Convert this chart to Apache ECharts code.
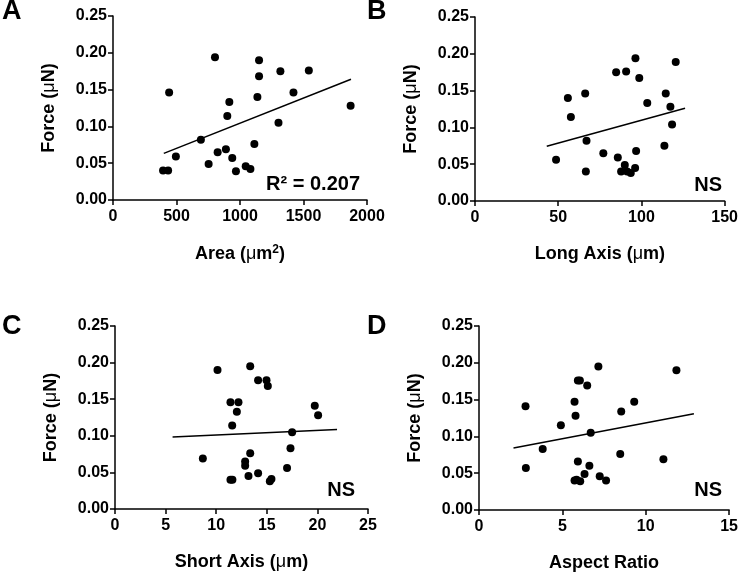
<!DOCTYPE html>
<html>
<head>
<meta charset="utf-8">
<script src="https://cdn.jsdelivr.net/npm/echarts@6/dist/echarts.min.js"></script>
<style>html,body{margin:0;padding:0;background:#fff}#c{width:741px;height:576px}</style>
</head>
<body>
<div id="c"></div>
<script>
// Panel A: Area (um^2) vs Force (uN)
const areaX = [394,434,442,495,692,803,753,824,889,900,916,939,968,1045,1082,1113,1137,1150,1150,1303,1318,1421,1542,1871];
const areaY = [0.040,0.040,0.146,0.059,0.082,0.194,0.049,0.065,0.069,0.114,0.133,0.057,0.039,0.046,0.042,0.076,0.140,0.168,0.190,0.105,0.175,0.146,0.176,0.128];
const areaFitX = [400,1874];
const areaFitY = [0.0634,0.164];
// Panel B: Long Axis (um)
const longX = [48.7,55.8,57.6,66.2,67.0,66.6,77.1,84.8,85.8,87.8,90.0,90.8,91.4,93.6,96.2,96.4,96.8,98.7,103.5,113.8,114.6,117.4,118.4,120.6];
const longY = [0.056,0.140,0.114,0.146,0.082,0.040,0.065,0.175,0.059,0.040,0.049,0.176,0.040,0.038,0.045,0.194,0.068,0.167,0.133,0.075,0.146,0.128,0.104,0.189];
const longFitX = [43.1,126.2];
const longFitY = [0.0744,0.1261];
// Panel C: Short Axis (um)
const shortX = [8.68,10.13,11.41,12.2,12.04,11.58,11.41,11.6,12.86,12.86,13.19,13.36,13.36,14.14,14.14,14.97,15.1,15.3,15.46,17.0,17.34,17.5,19.74,20.07];
const shortY = [0.069,0.190,0.146,0.146,0.133,0.114,0.040,0.040,0.065,0.059,0.045,0.076,0.195,0.176,0.049,0.176,0.168,0.038,0.041,0.056,0.083,0.105,0.141,0.128];
const shortFitX = [5.69,21.94];
const shortFitY = [0.0982,0.1086];
// Panel D: Aspect Ratio
const ratioX = [2.79,2.81,3.82,4.91,5.73,5.79,5.73,5.85,5.93,5.93,6.05,6.07,6.33,6.49,6.62,6.70,7.16,7.24,7.62,8.47,8.53,9.31,11.06,11.84];
const ratioY = [0.141,0.057,0.083,0.115,0.147,0.128,0.040,0.041,0.066,0.176,0.176,0.039,0.049,0.169,0.060,0.105,0.195,0.046,0.040,0.076,0.134,0.147,0.069,0.190];
const ratioFitX = [2.07,12.89];
const ratioFitY = [0.0842,0.1309];

const yTicks = [0,0.05,0.10,0.15,0.20,0.25];
const panelLetters = ['A','B','C','D'];
const annotations = ['R² = 0.207','NS','NS','NS'];

const FONT = '"Liberation Sans", Arial, sans-serif';
function pairs(xs, ys){ return xs.map((x,i)=>[x, ys[i]]); }

const grids = [
  {left:113, top:16, width:254, height:184},
  {left:475, top:17, width:252, height:184},
  {left:115, top:326, width:253, height:183},
  {left:479, top:326, width:252, height:184}
];
const xSpecs = [
  {max:2000, interval:500, name:'{b|Area (}{m|μ}{b|m}{s|2}{b|)}'},
  {max:150, interval:50, name:'{b|Long Axis (}{m|μ}{b|m)}'},
  {max:25, interval:5, name:'{b|Short Axis (}{m|μ}{b|m)}'},
  {max:15, interval:5, name:'{b|Aspect Ratio}'}
];
const data = [
  [areaX, areaY, areaFitX, areaFitY],
  [longX, longY, longFitX, longFitY],
  [shortX, shortY, shortFitX, shortFitY],
  [ratioX, ratioY, ratioFitX, ratioFitY]
];

const nameRich = {
  b:{fontFamily:FONT, fontWeight:'bold', fontSize:18, color:'#000'},
  m:{fontFamily:FONT, fontWeight:'normal', fontSize:18, color:'#000'},
  s:{fontFamily:FONT, fontWeight:'bold', fontSize:12, color:'#000', verticalAlign:'top', padding:[0,0,9,0]}
};
const axisLineStyle = {color:'#000', width:1.5};

const xAxis = xSpecs.map((s,i)=>({
  gridIndex:i, type:'value', min:0, max:s.max, interval:s.interval,
  name:s.name, nameLocation:'middle', nameGap:44,
  nameTextStyle:{rich:nameRich},
  axisLine:{show:true, onZero:false, lineStyle:axisLineStyle},
  axisTick:{show:true, length:5, lineStyle:axisLineStyle},
  axisLabel:{margin:9, color:'#000', fontFamily:FONT, fontWeight:'bold', fontSize:16,
    formatter:v=>String(v)},
  splitLine:{show:false}
}));
const yAxis = grids.map((g,i)=>({
  gridIndex:i, type:'value', min:yTicks[0], max:yTicks[yTicks.length-1], interval:0.05,
  name:'{b|Force (}{m|μ}{b|N)}', nameLocation:'middle', nameGap:55,
  nameTextStyle:{rich:nameRich},
  axisLine:{show:true, onZero:false, lineStyle:axisLineStyle},
  axisTick:{show:true, length:5, lineStyle:axisLineStyle},
  axisLabel:{margin:6, color:'#000', fontFamily:FONT, fontWeight:'bold', fontSize:16,
    formatter:v=>v.toFixed(2)},
  splitLine:{show:false}
}));
const series = [];
data.forEach((d,i)=>{
  series.push({type:'scatter', xAxisIndex:i, yAxisIndex:i, data:pairs(d[0],d[1]),
    symbol:'circle', symbolSize:8, itemStyle:{color:'#000', opacity:1}, silent:true});
  series.push({type:'line', xAxisIndex:i, yAxisIndex:i, data:pairs(d[2],d[3]),
    symbol:'none', lineStyle:{color:'#000', width:1.5}, silent:true});
});

const letterPos = [{left:2,top:-2},{left:367,top:-2},{left:2,top:313},{left:367,top:313}];
const annPos = [{right:381,top:174},{right:19,top:175},{right:386,top:480},{right:19,top:480}];
const title = [];
panelLetters.forEach((t,i)=>title.push(Object.assign({text:t, padding:0,
  textStyle:{fontFamily:FONT, fontWeight:'bold', fontSize:27, color:'#000'}}, letterPos[i])));
annotations.forEach((t,i)=>title.push(Object.assign({text:t, padding:0,
  textStyle:{fontFamily:FONT, fontWeight:'bold', fontSize:20, color:'#000'}}, annPos[i])));

const chart = echarts.init(document.getElementById('c'), null, {renderer:'canvas'});
chart.setOption({animation:false, backgroundColor:'#fff', title, grid:grids, xAxis, yAxis, series});
</script>
</body>
</html>
